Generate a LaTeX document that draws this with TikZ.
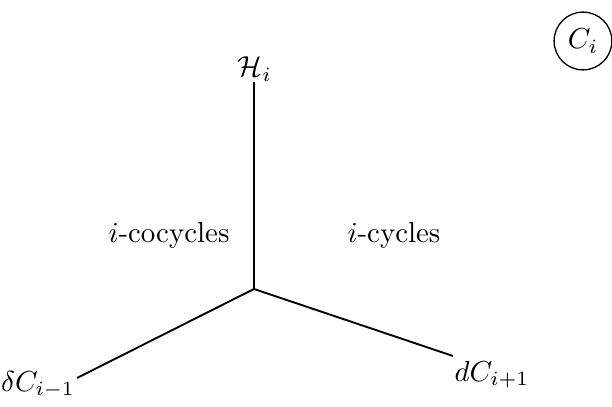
\documentclass[tikz,border=0pt]{standalone}
\usepackage{amsmath}
\begin{document}
\begin{tikzpicture}[x=0.346pt,y=-0.346pt,
  lbl/.style={inner sep=0pt},
  ln/.style={line width=0.65pt}]
\useasboundingbox (0,0) rectangle (612,407);
\coordinate (o) at (254,289);
\coordinate (t) at (254,82);
\coordinate (l) at (77,378);
\coordinate (r) at (453,356);
\draw[ln] (o) -- (t);
\draw[ln] (o) -- (l);
\draw[ln] (o) -- (r);
\node[lbl] (h) at (255,69) {$\mathcal{H}_i$};
\node[lbl] (dl) at (38,385) {$\delta C_{i-1}$};
\node[lbl] (dr) at (492,375) {$dC_{i+1}$};
\node[lbl] (cc) at (169,235) {$i$-cocycles};
\node[lbl] (cy) at (394,235) {$i$-cycles};
\node[lbl, draw, circle, line width=0.45pt, minimum size=20pt] (c) at (583,41) {$C_i$};
\end{tikzpicture}
\end{document}
